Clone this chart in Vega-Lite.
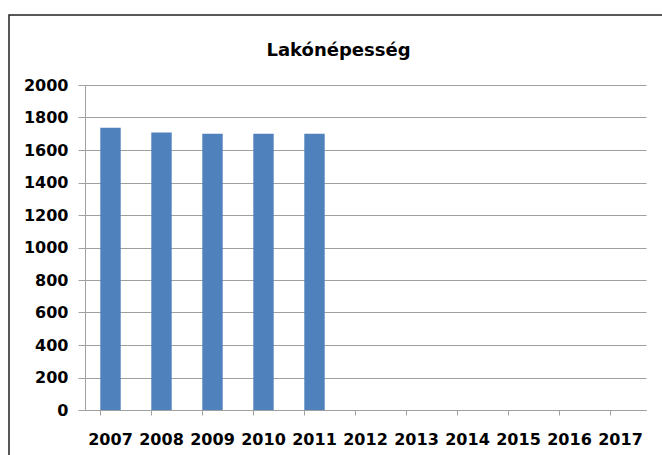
{
  "$schema": "https://vega.github.io/schema/vega-lite/v6.json",
  "autosize": {"type": "none"},
  "width": 561,
  "height": 325,
  "padding": {"left": 85, "top": 85, "right": 16, "bottom": 45},
  "background": "white",
  "title": {
    "text": "Lakónépesség",
    "font": "DejaVu Sans",
    "fontSize": 18,
    "fontWeight": "bold",
    "color": "black",
    "dx": -27,
    "baseline": "alphabetic",
    "offset": -60
  },
  "data": {
    "values": [
      {"year": "2007", "value": 1737},
      {"year": "2008", "value": 1708},
      {"year": "2009", "value": 1700},
      {"year": "2010", "value": 1700},
      {"year": "2011", "value": 1700},
      {"year": "2012", "value": null},
      {"year": "2013", "value": null},
      {"year": "2014", "value": null},
      {"year": "2015", "value": null},
      {"year": "2016", "value": null},
      {"year": "2017", "value": null}
    ]
  },
  "layer": [
    {
      "mark": {"type": "bar", "color": "#4F81BD"},
      "encoding": {
        "x": {
          "field": "year",
          "type": "ordinal",
          "scale": {
            "domain": ["2007","2008","2009","2010","2011","2012","2013","2014","2015","2016","2017"],
            "paddingInner": 0.6,
            "paddingOuter": 0.3
          },
          "axis": {
            "title": null,
            "labelAngle": 0,
            "bandPosition": 0,
            "labelFont": "DejaVu Sans",
            "labelFontSize": 16,
            "labelFontWeight": "bold",
            "labelColor": "black",
            "labelPadding": 16,
            "tickSize": 5,
            "tickColor": "#A0A0A0",
            "domainColor": "#A0A0A0",
            "grid": false
          }
        },
        "y": {
          "field": "value",
          "type": "quantitative",
          "scale": {"domain": [0, 2000], "nice": false},
          "axis": {
            "title": null,
            "values": [0, 200, 400, 600, 800, 1000, 1200, 1400, 1600, 1800, 2000],
            "format": "d",
            "labelFont": "DejaVu Sans",
            "labelFontSize": 16,
            "labelFontWeight": "bold",
            "labelColor": "black",
            "labelPadding": 10,
            "tickSize": 7,
            "tickColor": "#A0A0A0",
            "domainColor": "#A0A0A0",
            "grid": true,
            "gridColor": "#A0A0A0",
            "gridWidth": 1
          }
        }
      }
    },
    {
      "data": {"values": [{"frame": 1}]},
      "mark": {"type": "rect", "fill": null, "stroke": "#222222", "strokeWidth": 1.5},
      "encoding": {
        "x": {"value": -76},
        "x2": {"value": 593},
        "y": {"value": -70},
        "y2": {"value": 380}
      }
    }
  ],
  "config": {
    "view": {"stroke": null},
    "axis": {"domainWidth": 1, "tickWidth": 1}
  }
}
